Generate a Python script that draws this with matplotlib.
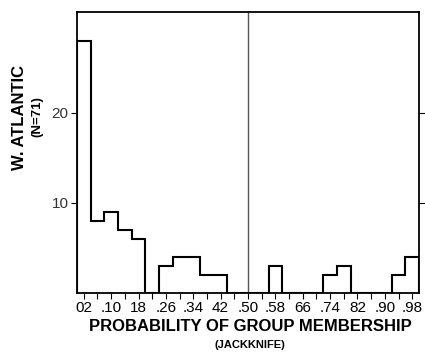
import matplotlib.pyplot as plt
import numpy as np

plt.rcParams['font.family'] = ['Liberation Sans', 'DejaVu Sans']

# histogram bins of width .04 from 0 to 1
edges = np.linspace(0, 1, 26)
counts = [28, 8, 9, 7, 6, 0, 3, 4, 4, 2, 2, 0, 0, 0, 3, 0, 0, 0, 2, 3, 0, 0, 0, 2, 4]
centers = (edges[:-1] + edges[1:]) / 2
tick_label = ['02', '.10', '18', '.26', '.34', '42', '.50', '.58', '66', '.74', '82', '.90', '.98']
yticks = [10, 20]

fig = plt.figure(figsize=(4.25, 3.64), dpi=100)
ax = fig.add_axes([0.181, 0.195, 0.805, 0.772])

ax.stairs(counts, edges, color='black', lw=1.5)
ax.axvline(0.5, color='#555555', lw=1)

ax.set_xlim(0, 1)
ax.set_ylim(0, 31.2)
ax.set_xticks(centers)
lbls = ['' for c in centers]
lbls[::2] = tick_label
ax.set_xticklabels(lbls, size=11)
ax.set_yticks(yticks)
ax.set_yticklabels([str(v) for v in yticks], size=11, color='#333333')
ax.tick_params(axis='x', direction='out', length=4, width=0.8, pad=1.5)
ax.tick_params(axis='y', direction='out', length=4, width=0.8, right=True, pad=2)
for s in ax.spines.values():
    s.set_linewidth(1.3)

fig.text(0.047, 0.676, 'W. ATLANTIC', rotation=90, ha='center', va='center',
         size=12, weight='bold')
fig.text(0.088, 0.679, '(N=71)', rotation=90, ha='center', va='center',
         size=9.5, weight='bold')
fig.text(0.588, 0.102, 'PROBABILITY OF GROUP MEMBERSHIP', ha='center', va='center',
         size=12, weight='bold')
fig.text(0.588, 0.052, '(JACKKNIFE)', ha='center', va='center',
         size=8, weight='bold')

plt.savefig('out.png', dpi=100)
